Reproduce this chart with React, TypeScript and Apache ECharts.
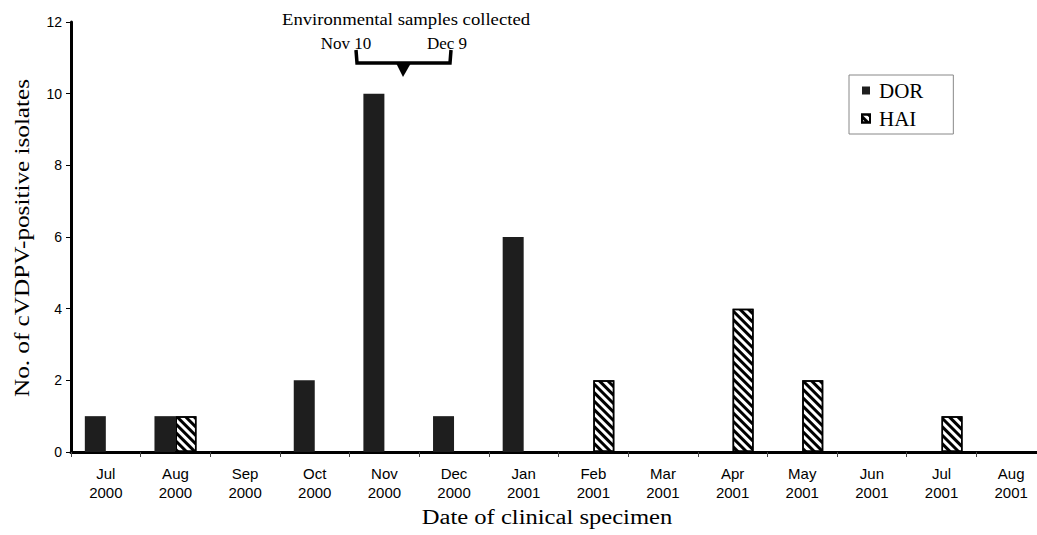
import React, { useEffect, useRef } from "react";
import * as echarts from "echarts";

const categories = [
  "Jul\n2000", "Aug\n2000", "Sep\n2000", "Oct\n2000", "Nov\n2000", "Dec\n2000", "Jan\n2001",
  "Feb\n2001", "Mar\n2001", "Apr\n2001", "May\n2001", "Jun\n2001", "Jul\n2001", "Aug\n2001",
];
const dorValues = [1, 1, 0, 2, 10, 1, 6, 0, 0, 0, 0, 0, 0, 0];
const haiValues = [0, 1, 0, 0, 0, 0, 0, 2, 0, 4, 2, 0, 1, 0];
const yTicks = { min: 0, max: 12, interval: 2 };
const xAxisTitle = "Date of clinical specimen";
const yAxisTitle = "No. of cVDPV-positive isolates";

const serif = "'Liberation Serif', 'Times New Roman', serif";
const sans = "'Liberation Sans', Arial, sans-serif";

export default function App() {
  const ref = useRef<HTMLDivElement>(null);
  useEffect(() => {
    if (!ref.current) return;
    const chart = echarts.init(ref.current, undefined, { renderer: "svg" });
    const nz = (v: number) => (v === 0 ? "-" : v);
    chart.setOption({
      animation: false,
      backgroundColor: "#fff",
      grid: { left: 71, top: 22, width: 975, height: 430, containLabel: false, outerBoundsMode: "none" },
      legend: {
        orient: "vertical",
        left: 849,
        top: 75,
        padding: [5, 30, 5, 12],
        borderColor: "#888",
        borderWidth: 1,
        icon: "rect",
        itemWidth: 8,
        itemHeight: 8,
        itemGap: 7,
        textStyle: { fontFamily: serif, fontSize: 21, color: "#000", padding: [0, 0, 0, 4] },
        data: ["DOR", "HAI"],
      },
      xAxis: {
        type: "category",
        data: categories,
        axisLine: { lineStyle: { color: "#000", width: 3 } },
        axisTick: { show: true, length: 5, lineStyle: { color: "#444", width: 1 } },
        axisLabel: { fontFamily: sans, fontSize: 15, color: "#000", lineHeight: 19, margin: 12, interval: 0 },
      },
      yAxis: {
        type: "value",
        min: yTicks.min,
        max: yTicks.max,
        interval: yTicks.interval,
        axisLine: { show: true, lineStyle: { color: "#000", width: 3 } },
        axisTick: { show: true, length: 5, lineStyle: { color: "#000", width: 1 } },
        axisLabel: { fontFamily: sans, fontSize: 14, color: "#000", margin: 9 },
        splitLine: { show: false },
      },
      series: [
        {
          name: "DOR",
          type: "bar",
          data: dorValues.map(nz),
          barWidth: 21,
          barGap: "0%",
          itemStyle: { color: "#1e1e1e" },
        },
        {
          name: "HAI",
          type: "bar",
          data: haiValues.map(nz),
          barWidth: 21,
          itemStyle: {
            color: "#fff",
            borderColor: "#000",
            borderWidth: 1.5,
            decal: {
              symbol: "rect",
              symbolSize: 1,
              color: "#000",
              backgroundColor: "#fff",
              dashArrayX: [1, 0],
              dashArrayY: [2.5, 2.5],
              rotation: Math.PI / 4,
            },
          },
        },
      ],
      graphic: [
        {
          type: "text",
          x: 406,
          y: 19,
          scaleX: 1.1,
          style: { text: "Environmental samples collected", fontFamily: serif, fontSize: 17, fill: "#000", align: "center", verticalAlign: "middle" },
        },
        {
          type: "text",
          x: 346,
          y: 43,
          style: { text: "Nov 10", fontFamily: serif, fontSize: 17, fill: "#000", align: "center", verticalAlign: "middle" },
        },
        {
          type: "text",
          x: 447,
          y: 43,
          style: { text: "Dec 9", fontFamily: serif, fontSize: 17, fill: "#000", align: "center", verticalAlign: "middle" },
        },
        {
          type: "polyline",
          shape: { points: [[356, 50], [357, 63], [450, 63], [451, 50]] },
          style: { stroke: "#000", lineWidth: 3.5, fill: "none" },
        },
        {
          type: "polygon",
          shape: { points: [[396, 63], [411, 63], [403, 77]] },
          style: { fill: "#000" },
        },
        {
          type: "text",
          x: 547,
          y: 517,
          scaleX: 1.23,
          style: { text: xAxisTitle, fontFamily: serif, fontSize: 20, fill: "#000", align: "center", verticalAlign: "middle" },
        },
        {
          type: "text",
          x: 22,
          y: 238,
          rotation: Math.PI / 2,
          scaleX: 1.26,
          scaleY: 1.1,
          style: { text: yAxisTitle, fontFamily: serif, fontSize: 20, fill: "#000", align: "center", verticalAlign: "middle" },
        },
      ],
    });
    return () => chart.dispose();
  }, []);
  return (
    <div
      ref={ref}
      style={{ position: "fixed", left: 0, top: 0, width: 1037, height: 535, background: "#fff" }}
    />
  );
}
